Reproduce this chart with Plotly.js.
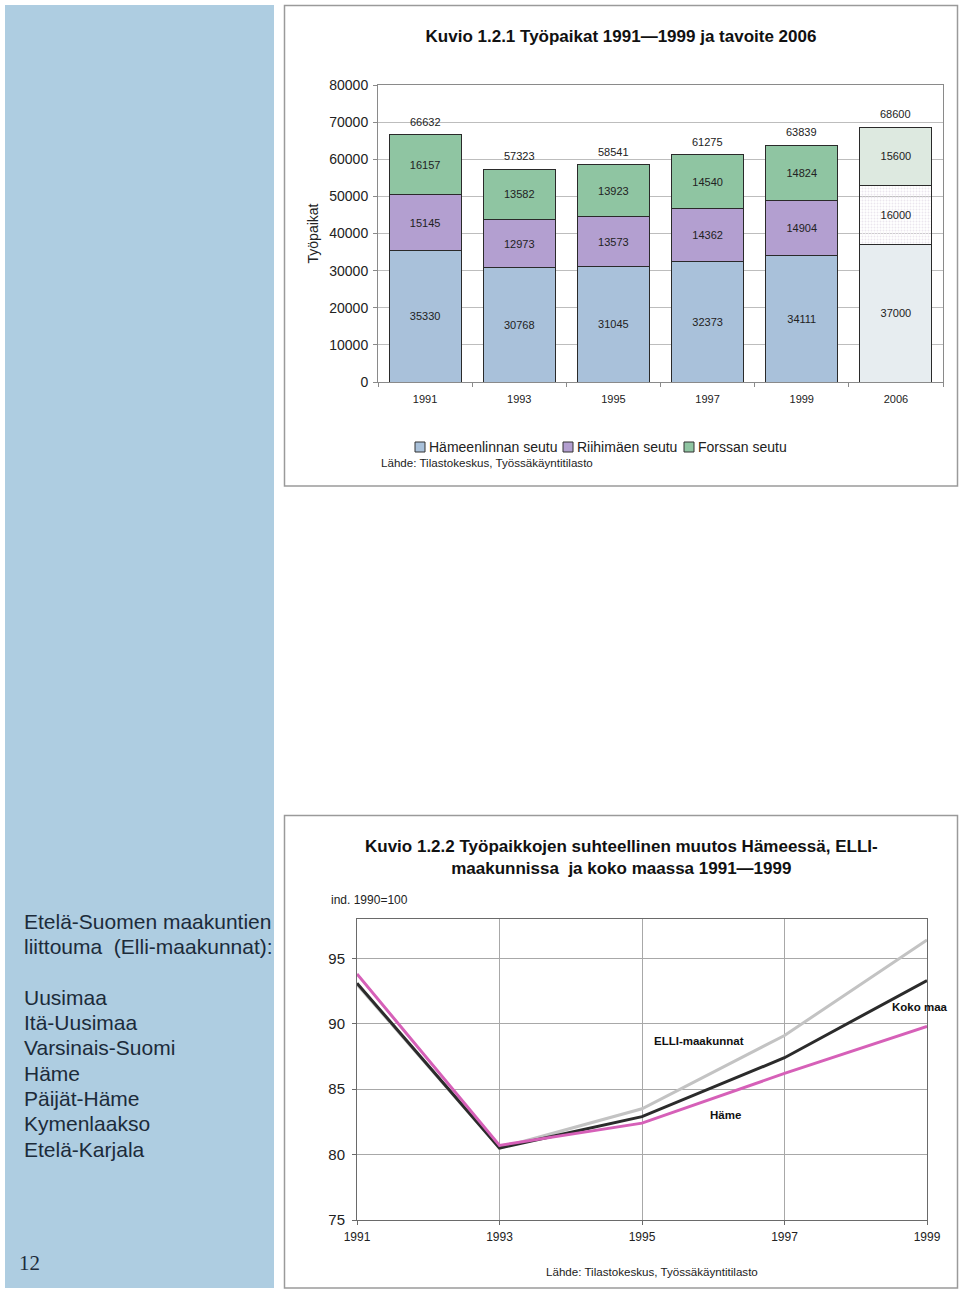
<!DOCTYPE html>
<html>
<head>
<meta charset="utf-8">
<script src="https://cdn.plot.ly/plotly-3.0.1.min.js"></script>
<style>html,body{margin:0;padding:0;background:#fff;}#chart{width:960px;height:1292px;}</style>
</head>
<body>
<div id="chart"></div>
<script>
// ---- Chart 1 data: Työpaikat 1991–1999 ja tavoite 2006 ----
const years1 = ['1991', '1993', '1995', '1997', '1999', '2006'];
const seriesNames = ['Hämeenlinnan seutu', 'Riihimäen seutu', 'Forssan seutu'];
const hameenlinnanSeutu = [35330, 30768, 31045, 32373, 34111, 37000];
const riihimaenSeutu = [15145, 12973, 13573, 14362, 14904, 16000];
const forssanSeutu = [16157, 13582, 13923, 14540, 14824, 15600];

// ---- Chart 2 data: index 1990 = 100 ----
const years2 = [1991, 1993, 1995, 1997, 1999];
const elliMaakunnat = [93.0, 80.5, 83.5, 89.1, 96.4];
const kokoMaa = [93.1, 80.5, 82.9, 87.4, 93.3];
const hame = [93.8, 80.7, 82.4, 86.2, 89.8];

// ---- Sidebar text ----
const sidebarLines = ['Etelä-Suomen maakuntien', 'liittouma  (Elli-maakunnat):', '',
  'Uusimaa', 'Itä-Uusimaa', 'Varsinais-Suomi', 'Häme', 'Päijät-Häme', 'Kymenlaakso', 'Etelä-Karjala'];

const W = 960, H = 1292;
const px = x => x / W;
const py = y => 1 - y / H;
const F = 'Liberation Sans, Arial, sans-serif';
const FN = 'Liberation Sans Narrow, Arial Narrow, Liberation Sans, sans-serif';

const baseColors = ['#a9c1da', '#b39fd0', '#8fc5a2'];
const targetColors = ['#e7edf0', '#ebe6ee', '#dde9e0'];

const totals = years1.map((_, i) => hameenlinnanSeutu[i] + riihimaenSeutu[i] + forssanSeutu[i]);

function colorsFor(base, target) { return years1.map(y => y === '2006' ? target : base); }

function barTrace(name, vals, base, target, pattern) {
  const t = {
    type: 'bar', name: name, x: years1, y: vals, xaxis: 'x', yaxis: 'y',
    text: vals.map(String), textposition: 'inside', insidetextanchor: 'middle',
    textangle: 0, constraintext: 'none',
    textfont: {family: F, size: 11, color: '#222'},
    insidetextfont: {family: F, size: 11, color: '#222'},
    marker: {color: colorsFor(base, target), line: {color: '#2a2a2a', width: 1}},
    hoverinfo: 'skip', showlegend: false
  };
  if (pattern) {
    t.marker.pattern = {shape: years1.map(y => y === '2006' ? '.' : ''), fgcolor: '#cfc6d6', size: 3, solidity: 0.3};
  }
  return t;
}

const data = [
  barTrace(seriesNames[0], hameenlinnanSeutu, baseColors[0], targetColors[0], false),
  barTrace(seriesNames[1], riihimaenSeutu, baseColors[1], targetColors[1], true),
  barTrace(seriesNames[2], forssanSeutu, baseColors[2], targetColors[2], false),
  {type: 'scatter', mode: 'lines', name: 'ELLI-maakunnat', x: years2, y: elliMaakunnat,
   xaxis: 'x2', yaxis: 'y2', line: {color: '#c3c3c3', width: 3}, showlegend: false, hoverinfo: 'skip'},
  {type: 'scatter', mode: 'lines', name: 'Koko maa', x: years2, y: kokoMaa,
   xaxis: 'x2', yaxis: 'y2', line: {color: '#2b2b2b', width: 3}, showlegend: false, hoverinfo: 'skip'},
  {type: 'scatter', mode: 'lines', name: 'Häme', x: years2, y: hame,
   xaxis: 'x2', yaxis: 'y2', line: {color: '#d660b8', width: 3}, showlegend: false, hoverinfo: 'skip'}
];

const annotations = [];
// totals above the stacked bars (x given as category index)
years1.forEach((yr, i) => {
  annotations.push({xref: 'x', yref: 'y', x: i, y: totals[i], xanchor: 'center', yanchor: 'bottom',
    yshift: 5, showarrow: false, text: String(totals[i]), font: {family: F, size: 11, color: '#222'}});
});

sidebarLines.forEach((t, i) => {
  if (!t) return;
  annotations.push({xref: 'paper', yref: 'paper', x: px(22), y: py(921 + 25.35 * i),
    xanchor: 'left', yanchor: 'middle', showarrow: false, text: t,
    font: {family: F, size: 21, color: '#1c2b3a'}});
});
annotations.push({xref: 'paper', yref: 'paper', x: px(17), y: py(1263), xanchor: 'left', yanchor: 'middle',
  showarrow: false, text: '12', font: {family: 'Liberation Serif, DejaVu Serif, serif', size: 21, color: '#1c2b3a'}});

// chart 1 legend (manual, compact like the reference)
const legendX = [415, 563, 684];
const shapes = [
  {type: 'rect', xref: 'paper', yref: 'paper', x0: px(5), x1: px(274), y0: py(1288), y1: py(5),
   fillcolor: '#aecde1', line: {width: 0}, layer: 'below'},
  {type: 'rect', xref: 'paper', yref: 'paper', x0: px(284.5), x1: px(957.5), y0: py(486), y1: py(5.5),
   fillcolor: 'rgba(0,0,0,0)', line: {color: '#9a9a9a', width: 1.5}, layer: 'below'},
  {type: 'rect', xref: 'paper', yref: 'paper', x0: px(284.5), x1: px(957.5), y0: py(1288), y1: py(815.5),
   fillcolor: 'rgba(0,0,0,0)', line: {color: '#9a9a9a', width: 1.5}, layer: 'below'}
];
seriesNames.forEach((n, i) => {
  shapes.push({type: 'rect', xref: 'paper', yref: 'paper', x0: px(legendX[i]), x1: px(legendX[i] + 10),
    y0: py(452), y1: py(442), fillcolor: baseColors[i], line: {color: '#333', width: 1}});
  annotations.push({xref: 'paper', yref: 'paper', x: px(legendX[i] + 12), y: py(447), xanchor: 'left', yanchor: 'middle',
    showarrow: false, text: n, font: {family: F, size: 14, color: '#222'}});
});
annotations.push({xref: 'paper', yref: 'paper', x: px(379), y: py(463), xanchor: 'left', yanchor: 'middle',
  showarrow: false, text: 'Lähde: Tilastokeskus, Työssäkäyntitilasto', font: {family: F, size: 11.6, color: '#222'}});

// chart 2 texts
annotations.push({xref: 'paper', yref: 'paper', x: px(621), y: py(857), xanchor: 'center', yanchor: 'middle',
  showarrow: false, align: 'center',
  text: '<b>Kuvio 1.2.2 Työpaikkojen suhteellinen muutos Hämeessä, ELLI-<br>maakunnissa  ja koko maassa 1991—1999</b>',
  font: {family: FN, size: 17, color: '#111'}});
annotations.push({xref: 'paper', yref: 'paper', x: px(329), y: py(900), xanchor: 'left', yanchor: 'middle',
  showarrow: false, text: 'ind. 1990=100', font: {family: FN, size: 12, color: '#222'}});
annotations.push({xref: 'paper', yref: 'paper', x: px(652), y: py(1271), xanchor: 'center', yanchor: 'middle',
  showarrow: false, text: 'Lähde: Tilastokeskus, Työssäkäyntitilasto', font: {family: FN, size: 11.6, color: '#222'}});
annotations.push({xref: 'x2', yref: 'y2', x: 1995.8, y: 88.7, xanchor: 'center', yanchor: 'middle',
  showarrow: false, text: '<b>ELLI-maakunnat</b>', font: {family: FN, size: 11.5, color: '#111'}});
annotations.push({xref: 'x2', yref: 'y2', x: 1998.9, y: 91.25, xanchor: 'center', yanchor: 'middle',
  showarrow: false, text: '<b>Koko maa</b>', font: {family: FN, size: 11.5, color: '#111'}});
annotations.push({xref: 'x2', yref: 'y2', x: 1996.17, y: 83.05, xanchor: 'center', yanchor: 'middle',
  showarrow: false, text: '<b>Häme</b>', font: {family: FN, size: 11.5, color: '#111'}});

const layout = {
  width: W, height: H, margin: {l: 0, r: 0, t: 0, b: 0}, autosize: false,
  paper_bgcolor: '#ffffff', plot_bgcolor: 'rgba(0,0,0,0)',
  font: {family: F, color: '#222'},
  title: {text: '<b>Kuvio 1.2.1 Työpaikat 1991—1999 ja tavoite 2006</b>', x: px(621), xanchor: 'center',
          y: py(36), yanchor: 'middle', xref: 'paper', yref: 'container', font: {family: FN, size: 17, color: '#111'}},
  barmode: 'stack', bargap: 0.235,
  showlegend: false,
  xaxis: {domain: [px(378), px(943)], anchor: 'y', type: 'category', range: [-0.5, years1.length - 0.5],
          categoryorder: 'array', categoryarray: years1, showgrid: false,
          showline: true, linecolor: '#8a8a8a', linewidth: 1, mirror: true,
          ticks: 'outside', tickson: 'boundaries', ticklen: 4, tickcolor: '#8a8a8a', ticklabelstandoff: 7,
          tickangle: 0, tickfont: {family: F, size: 11, color: '#222'}, fixedrange: true},
  yaxis: {domain: [py(382), py(85)], anchor: 'x', range: [0, 80000], dtick: 10000, tick0: 0, tickformat: 'd',
          showgrid: true, gridcolor: '#bdbdbd', zeroline: false,
          showline: true, linecolor: '#8a8a8a', linewidth: 1, mirror: true,
          ticks: 'outside', ticklen: 4, tickcolor: '#8a8a8a', ticklabelstandoff: 2,
          tickfont: {family: F, size: 14, color: '#222'},
          title: {text: 'Työpaikat', font: {family: F, size: 14, color: '#222'}, standoff: 7}, fixedrange: true},
  xaxis2: {domain: [px(357), px(927)], anchor: 'y2', range: [1991, 1999], tick0: 1991, dtick: 2,
           showgrid: true, gridcolor: '#a8a8a8', zeroline: false,
           showline: true, linecolor: '#6a6a6a', linewidth: 1, mirror: true,
           ticks: 'outside', ticklen: 4, tickcolor: '#6a6a6a', ticklabelstandoff: 2,
           tickfont: {family: FN, size: 12, color: '#222'}, fixedrange: true},
  yaxis2: {domain: [py(1220), py(919)], anchor: 'x2', range: [75, 98], tickvals: [75, 80, 85, 90, 95],
           showgrid: true, gridcolor: '#a8a8a8', zeroline: false,
           showline: true, linecolor: '#6a6a6a', linewidth: 1, mirror: true,
           ticks: 'outside', ticklen: 4, tickcolor: '#6a6a6a', ticklabelstandoff: 4,
           tickfont: {family: FN, size: 15, color: '#222'}, fixedrange: true},
  annotations: annotations,
  shapes: shapes
};

Plotly.newPlot('chart', data, layout, {displayModeBar: false, staticPlot: true});
</script>
</body>
</html>
